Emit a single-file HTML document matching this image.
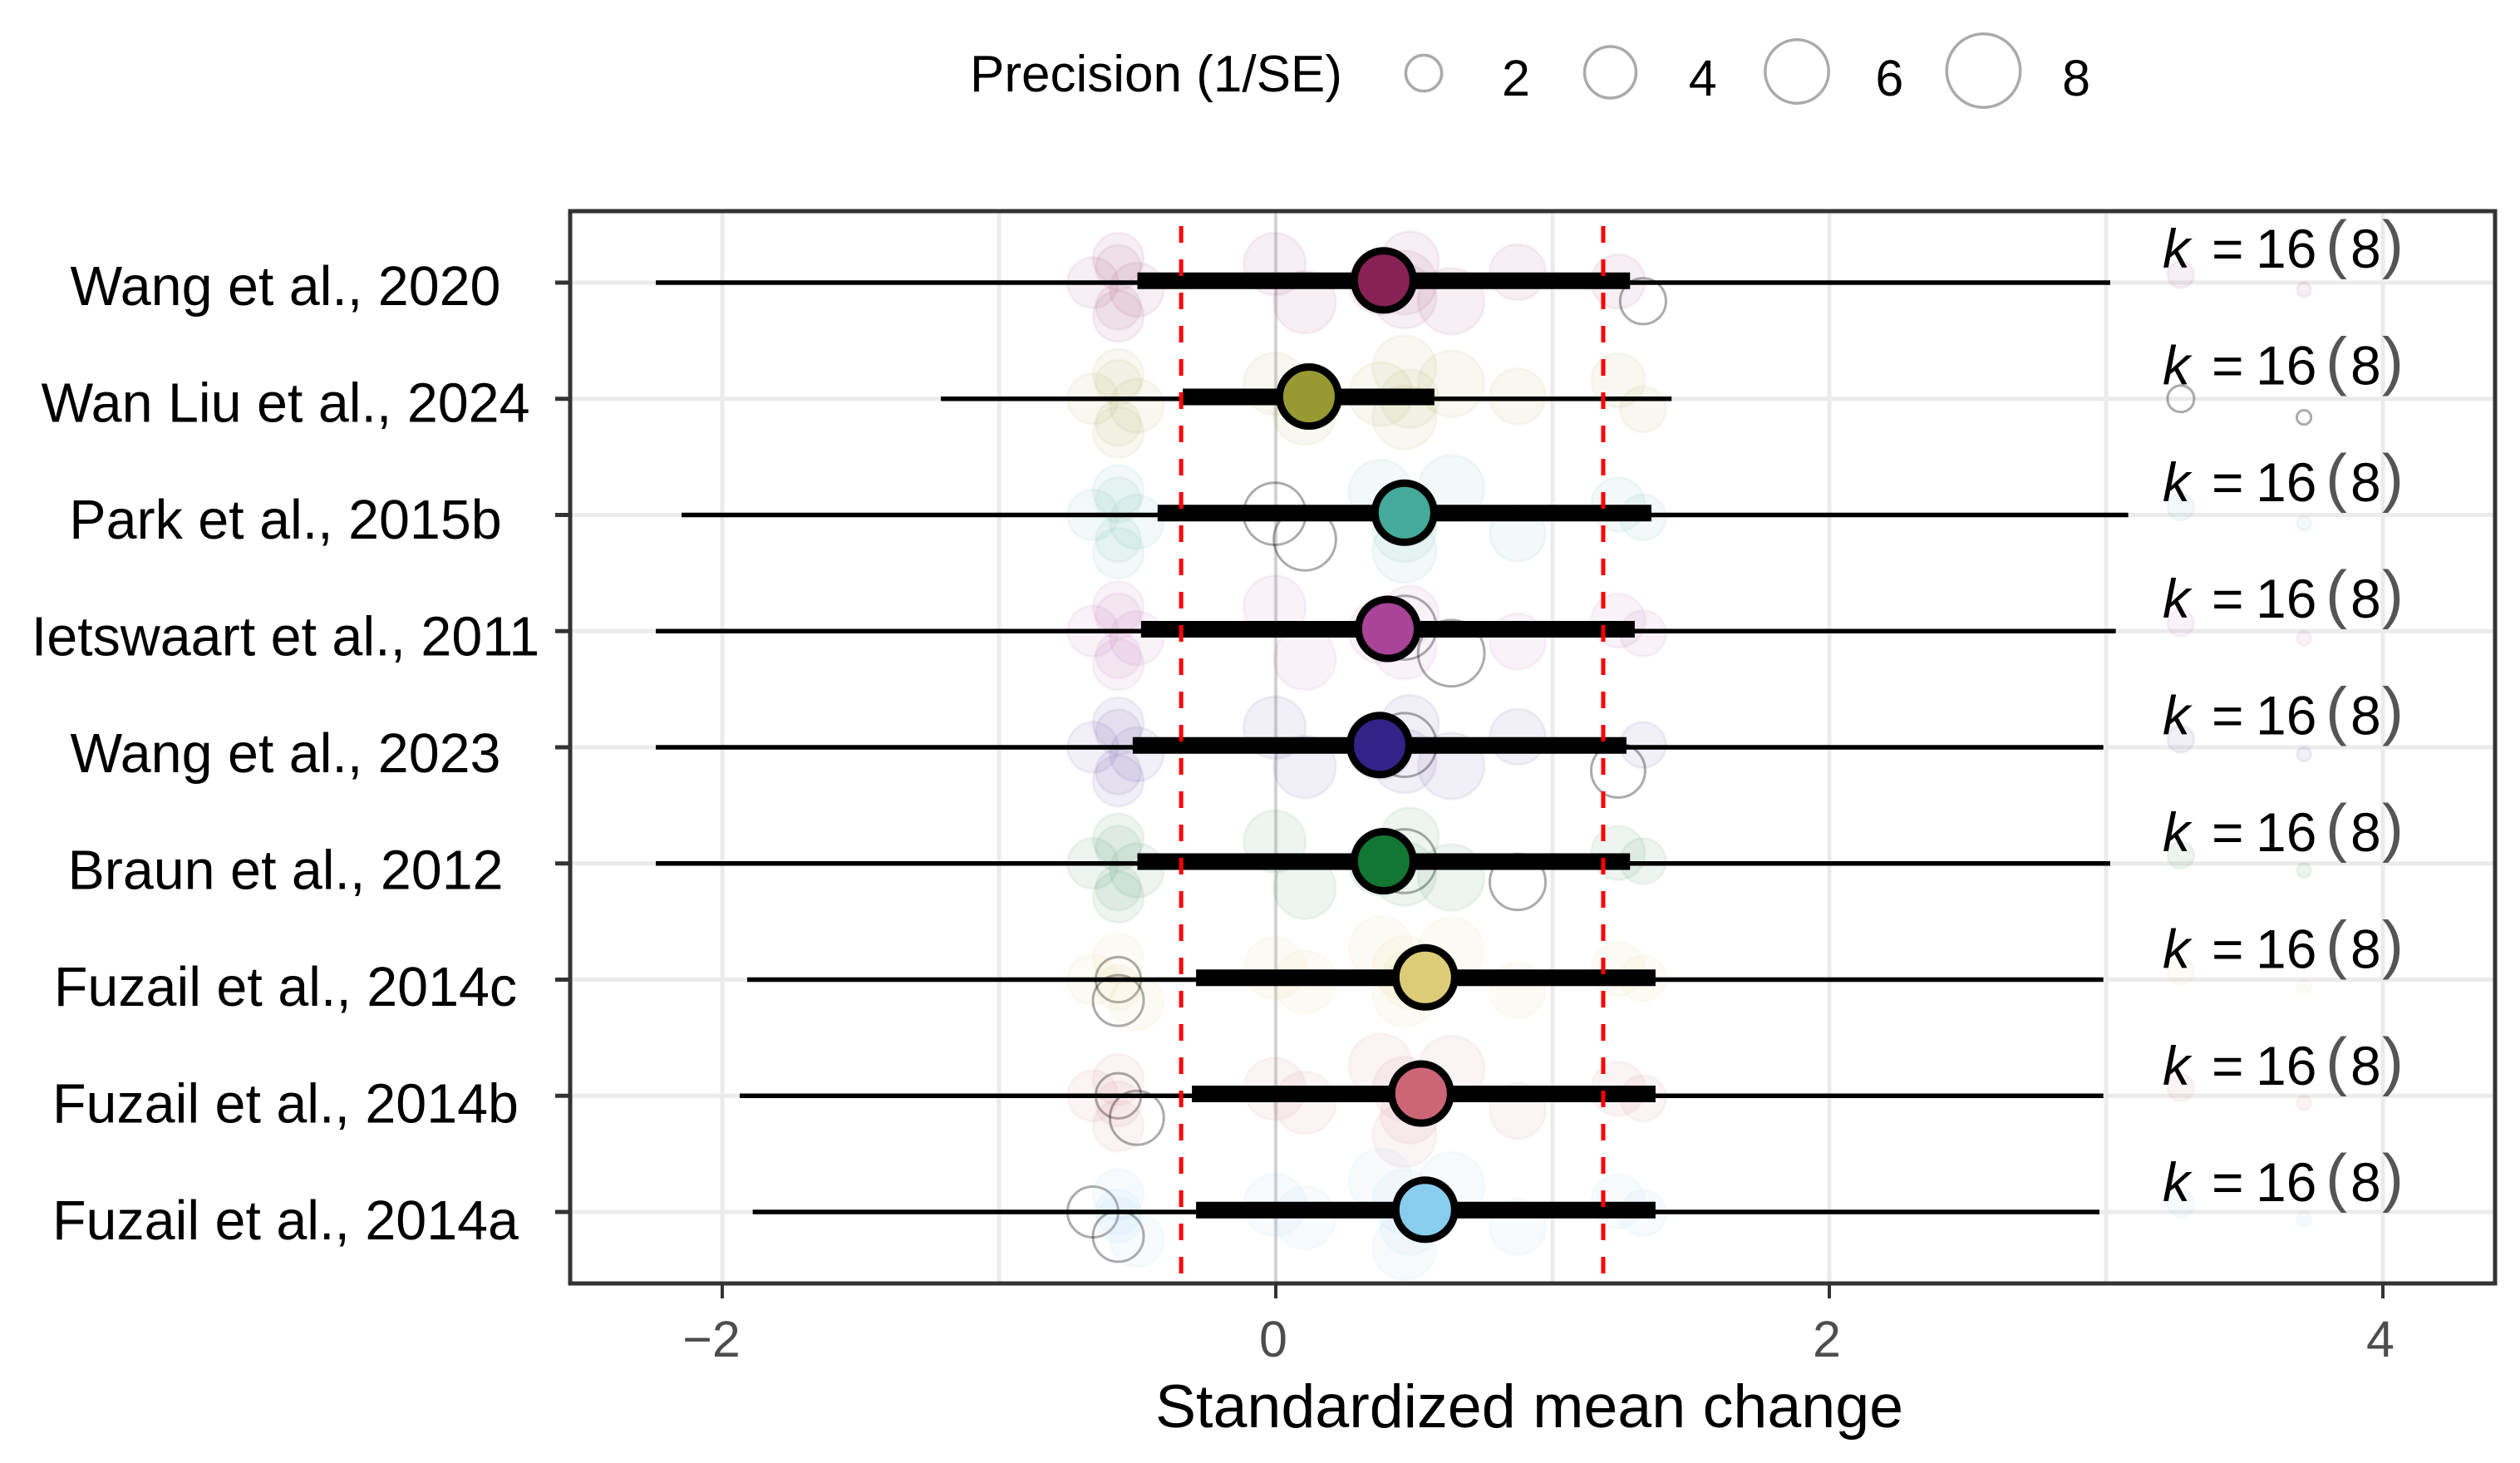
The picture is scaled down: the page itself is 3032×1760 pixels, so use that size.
<!DOCTYPE html>
<html lang="en">
<head>
<meta charset="utf-8">
<title>Leave-one-out standardized mean change</title>
<style>
html,body{margin:0;padding:0;background:#fff;}
#chart{display:block;width:3032px;height:1760px;font-family:"Liberation Sans",Arial,sans-serif;}
</style>
</head>
<body>
<svg id="chart" xmlns="http://www.w3.org/2000/svg" width="3032" height="1760" viewBox="0 0 3032 1760">
  <rect x="0" y="0" width="3032" height="1760" fill="#ffffff"/>
  <g id="grid"></g>
  <g id="studies"></g>
  <g id="intervals"></g>
  <g id="refs"></g>
  <g id="counts"></g>
  <rect x="686" y="254" width="2316" height="1290" fill="none" stroke="#333333" stroke-width="5"/>
  <g id="axes"></g>
  <text x="1840" y="1717" font-size="73.6" text-anchor="middle" fill="#000">Standardized mean change</text>
  <g id="legend">
    <text x="1167" y="110" font-size="62" fill="#000">Precision (1/SE)</text>
  </g>
</svg>
<script>
const rowLabels = ["Wang et al., 2020","Wan Liu et al., 2024","Park et al., 2015b","Ietswaart et al., 2011","Wang et al., 2023","Braun et al., 2012","Fuzail et al., 2014c","Fuzail et al., 2014b","Fuzail et al., 2014a"];
const rowColors = ["#882255","#999933","#44AA99","#AA4499","#332288","#117733","#DDCC77","#CC6677","#88CCEE"];
const estimates = [0.39,0.12,0.465,0.405,0.375,0.39,0.54,0.525,0.54];
const ciLow = [-0.50,-0.336,-0.427,-0.487,-0.517,-0.50,-0.288,-0.303,-0.288];
const ciHigh = [1.28,0.573,1.357,1.297,1.267,1.28,1.372,1.372,1.372];
const piLow = [-2.24,-1.21,-2.147,-2.24,-2.24,-2.24,-1.91,-1.937,-1.89];
const piHigh = [3.015,1.43,3.08,3.035,2.99,3.015,2.99,2.99,2.976];
const countLabel = ["16","8"];
const refValues = [-0.342,1.183];
const majorTicks = [-2,0,2,4];
const minorTicks = [-1,1,3];
const tickLabels = ["\u22122","0","2","4"];
const legendValues = [2,4,6,8];

// Study effects and precision (1/SE)
const studyEffect = [-0.661,-0.569,-0.569,-0.569,-0.569,-0.502,-0.004,0.105,0.379,0.465,0.484,0.465,0.634,0.874,1.237,1.327,3.27,3.715];
const studyPrecision = [4,4,3.2,3.2,4,4.5,5.9,5.9,6.2,6.2,5.2,6.2,6.7,4.8,4.5,3.3,1.2,0.4];
// Vertical jitter of each study per row, in row units
const jitterRow1 = [0,-.21,-.13,.21,.29,.06,-.16,.17,0,0,-.19,.12,.16,-.09,-.01,.16,-.07,.06];
const jitterRow2 = [0,-.21,-.14,.21,.29,.06,-.13,.13,-.04,-.27,0,.16,-.13,-.02,-.16,.09,0,.16];
const jitterRow3 = [0,-.21,-.13,.21,.33,.06,-.01,.21,-.2,.13,0,.31,-.23,.16,-.09,.02,-.07,.07];
const jitterRow4 = [0,-.21,-.13,.21,.29,.06,-.21,.24,0,-.03,-.14,.14,.19,.09,-.09,.02,-.07,.06];
const jitterRow5 = [0,-.21,-.13,.21,.29,.06,-.17,.17,0,-.02,-.2,.12,.16,-.09,.2,-.02,-.07,.06];
const jitterRow6 = [0,-.21,-.13,.21,.29,.06,-.19,.21,0,-.02,-.23,.09,.12,.16,-.09,-.02,-.07,.06];
const jitterRow7 = [0,-.18,0,.07,.18,.2,-.1,.02,-.27,-.1,0,.13,-.25,.09,-.09,-.01,-.07,.06];
const jitterRow8 = [0,-.14,0,.07,.26,.19,-.06,.06,-.26,-.06,.16,.34,-.23,.13,-.06,.02,-.07,.06];
const jitterRow9 = [0,-.15,0,.07,.21,.24,-.06,.05,-.27,-.09,.12,.31,-.23,.13,-.09,.01,-.07,.06];
const rowJitter = [jitterRow1,jitterRow2,jitterRow3,jitterRow4,jitterRow5,jitterRow6,jitterRow7,jitterRow8,jitterRow9];
// Which studies are left out (drawn as open circles) in each row
const leftOutRow1 = [15];
const leftOutRow2 = [16,17];
const leftOutRow3 = [6,7];
const leftOutRow4 = [9,12];
const leftOutRow5 = [9,14];
const leftOutRow6 = [9,13];
const leftOutRow7 = [2,4];
const leftOutRow8 = [2,5];
const leftOutRow9 = [0,4];
const leftOut = [leftOutRow1,leftOutRow2,leftOutRow3,leftOutRow4,leftOutRow5,leftOutRow6,leftOutRow7,leftOutRow8,leftOutRow9];

const NS = "http://www.w3.org/2000/svg";
const panel = {left:686,right:3002,top:254,bottom:1544};
function xScale(v){ return 1535 + v*333; }
function rowScale(i){ return 340 + i*139.75; }
function sizeScale(p){ return 16*Math.sqrt(p); }
function make(parent,tag,attrs,text){
  const el = document.createElementNS(NS,tag);
  for(const k in attrs){ el.setAttribute(k,attrs[k]); }
  if(text!==undefined){ el.textContent = text; }
  parent.appendChild(el);
  return el;
}
const gGrid = document.getElementById("grid");
const gStudies = document.getElementById("studies");
const gIntervals = document.getElementById("intervals");
const gRefs = document.getElementById("refs");
const gCounts = document.getElementById("counts");
const gAxes = document.getElementById("axes");
const gLegend = document.getElementById("legend");

majorTicks.concat(minorTicks).forEach(function(t){
  const l = make(gGrid,"line",{x1:xScale(t),x2:xScale(t),y1:panel.top,y2:panel.bottom,stroke:"#ebebeb","stroke-width":5});
  
  
});
rowLabels.forEach(function(name,i){
  const l = make(gGrid,"line",{x1:panel.left,x2:panel.right,y1:rowScale(i),y2:rowScale(i),stroke:"#ebebeb","stroke-width":5});
  
  
});
const zero = make(gGrid,"line",{x1:xScale(0),x2:xScale(0),y1:panel.top,y2:panel.bottom,stroke:"#000","stroke-opacity":0.12,"stroke-width":3});



rowLabels.forEach(function(name,i){
  const jit = rowJitter[i];
  const out = leftOut[i];
  studyEffect.forEach(function(e,s){
    const r = sizeScale(studyPrecision[s]) - 1.5;
    const isOut = out.indexOf(s) >= 0;
    const c = make(gStudies,"circle",{cx:xScale(e),cy:rowScale(i)+jit[s]*139.75,r:r,
      fill:isOut?"none":rowColors[i],"fill-opacity":isOut?0:0.07,
      stroke:isOut?"#000":rowColors[i],"stroke-opacity":isOut?0.33:0.06,"stroke-width":3});
    
    
  });
});

rowLabels.forEach(function(name,i){
  const y = rowScale(i);
  const thin = make(gIntervals,"line",{x1:xScale(piLow[i]),x2:xScale(piHigh[i]),y1:y,y2:y,stroke:"#000","stroke-width":5.4});
  
  
  const thick = make(gIntervals,"line",{x1:xScale(ciLow[i]),x2:xScale(ciHigh[i]),y1:y-2.2,y2:y-2.2,stroke:"#000","stroke-width":20});
  
  
  const dot = make(gIntervals,"circle",{cx:xScale(estimates[i]),cy:y-2.7,r:35.5,fill:rowColors[i],stroke:"#000","stroke-width":9});
  
  
});

refValues.forEach(function(v){
  const l = make(gRefs,"line",{x1:xScale(v),x2:xScale(v),y1:272,y2:panel.bottom-2,stroke:"#ff0000","stroke-width":5,"stroke-dasharray":"20 20"});
  
  
});

rowLabels.forEach(function(name,i){
  const base = 322 + i*140.4;
  const g = make(gCounts,"text",{y:base,"font-size":66,fill:"#000"});
  
  
  make(g,"tspan",{x:2602,"font-style":"italic"},"k");
  make(g,"tspan",{x:2661},"=");
  make(g,"tspan",{x:2714},countLabel[0]);
  make(g,"tspan",{x:2798,y:base-2,"font-size":78,fill:"#555"},"(");
  make(g,"tspan",{x:2828,y:base},countLabel[1]);
  make(g,"tspan",{x:2866,y:base-2,"font-size":78,fill:"#555"},")");
});

rowLabels.forEach(function(name,i){
  const y = rowScale(i);
  const t = make(gAxes,"line",{x1:668,x2:686,y1:y,y2:y,stroke:"#333","stroke-width":5});
  
  
  const lab = make(gAxes,"text",{x:343.5,y:367+i*140.5,"font-size":66.4,"text-anchor":"middle",fill:"#000"},name);
  
  
});
majorTicks.forEach(function(t,i){
  const tick = make(gAxes,"line",{x1:xScale(t),x2:xScale(t),y1:panel.bottom,y2:1562,stroke:"#333","stroke-width":4});
  
  
  const lab = make(gAxes,"text",{x:xScale(t)-(t<0?13:3),y:1632,"font-size":61,"text-anchor":"middle",fill:"#4d4d4d"},tickLabels[i]);
  
  
});

legendValues.forEach(function(p,i){
  const cx = 1713 + i*224.5;
  const c = make(gLegend,"circle",{cx:cx,cy:88-i,r:sizeScale(p)-1,fill:"none",stroke:"#aaaaaa","stroke-width":3.5});
  
  
  const t = make(gLegend,"text",{x:1824+i*224.7,y:115,"font-size":61,"text-anchor":"middle",fill:"#000"},String(p));
  
  
});
</script>
</body>
</html>
